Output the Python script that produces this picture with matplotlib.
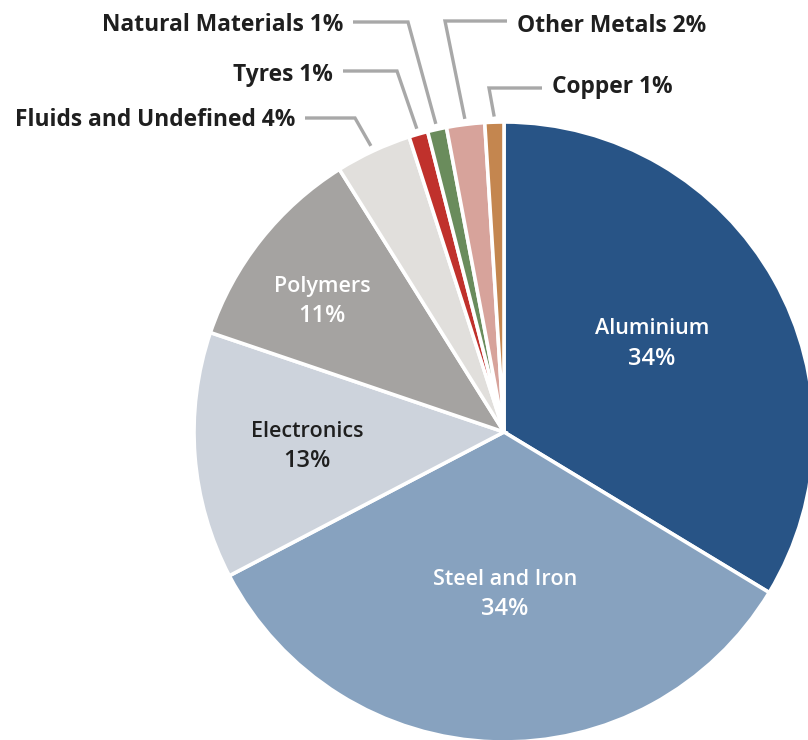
import numpy as np
import matplotlib
matplotlib.use("Agg")
import matplotlib.pyplot as plt

# Material composition of a vehicle (share of mass, %)
materials = ["Aluminium", "Steel and Iron", "Electronics", "Polymers",
             "Fluids and Undefined", "Tyres", "Natural Materials",
             "Other Metals", "Copper"]
shares = [34, 34, 13, 11, 4, 1, 1, 2, 1]
colors = ["#285486", "#87a2bf", "#cdd3dc", "#a5a3a1", "#e1dfdc",
          "#c0312c", "#6a8c5c", "#d7a39b", "#c4864f"]

W, H = 808, 740
fig = plt.figure(figsize=(W / 100, H / 100), dpi=100)
ax = fig.add_axes([0, 0, 1, 1])

cx, cy, R = 504, H - 432, 310
wedges, _ = ax.pie(shares, colors=colors, startangle=90, counterclock=False,
                   center=(cx, cy), radius=R, frame=True,
                   wedgeprops=dict(edgecolor="white", linewidth=2.6))
ax.set_xlim(0, W)
ax.set_ylim(0, H)
ax.set_aspect("equal")
ax.axis("off")

# labels inside the large slices: centre x, baselines of both lines (px from top)
inner = {
    "Aluminium": (652, 334, 365, "white"),
    "Steel and Iron": (505, 585, 615, "white"),
    "Electronics": (307, 437, 467, "#1f1f1f"),
    "Polymers": (322, 292, 322, "white"),
}
for name, (x, y1, y2, col) in inner.items():
    pct = shares[materials.index(name)]
    ax.text(x, H - y1, name, ha="center", va="baseline", color=col,
            fontsize=15.5, fontweight="semibold", family="Open Sans")
    ax.text(x, H - y2, f"{pct}%", ha="center", va="baseline", color=col,
            fontsize=17, fontweight="semibold", family="Open Sans")

# callouts for the thin slices: text anchor x, side, baseline y, elbow x, leader y
outer = {
    "Fluids and Undefined": (295, "right", 126, 355, 118),
    "Tyres": (333, "right", 81, 397, 71),
    "Natural Materials": (343, "right", 31, 408, 22),
    "Other Metals": (517, "left", 32, 445, 21),
    "Copper": (552, "left", 93, 489, 88),
}
line_col = "#a8a8a8"
for name, (tx, side, ty, ex, ly) in outer.items():
    i = materials.index(name)
    w = wedges[i]
    mid = np.deg2rad((w.theta1 + w.theta2) / 2)
    r_end = R * 1.018
    px = cx + r_end * np.cos(mid)
    py = cy + r_end * np.sin(mid)
    gap = 10 if side == "right" else -10
    ha = "right" if side == "right" else "left"
    ax.text(tx, H - ty, f"{name} {shares[i]}%", ha=ha, va="baseline",
            color="#1f1f1f", fontsize=16.4, fontweight="bold",
            family="Open Sans")
    ax.plot([tx + gap, ex, px], [H - ly, H - ly, py], color=line_col,
            lw=2.4, solid_capstyle="butt", solid_joinstyle="miter")

fig.savefig("out.png", dpi=100, facecolor="white")
